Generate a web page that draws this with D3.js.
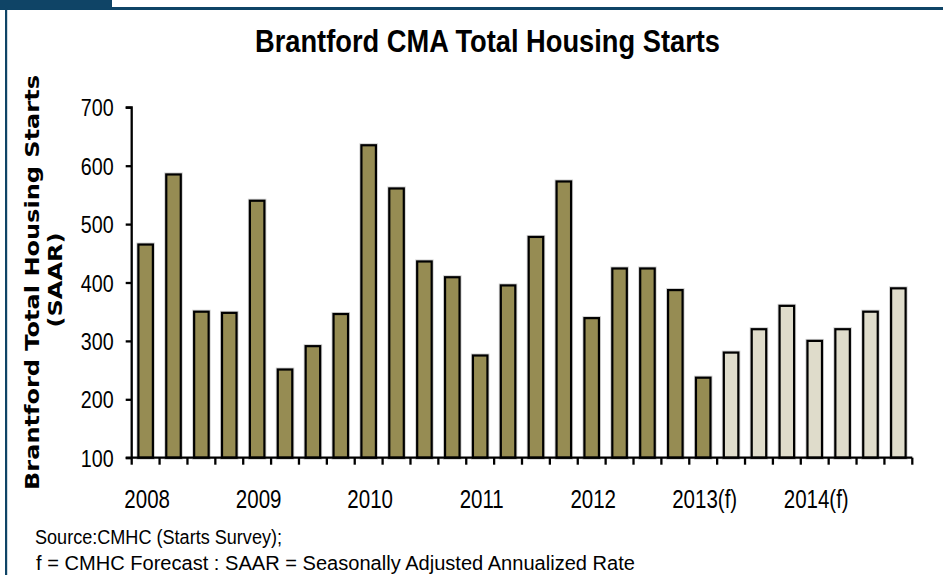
<!DOCTYPE html>
<html>
<head>
<meta charset="utf-8">
<script src="https://cdn.jsdelivr.net/npm/d3@7"></script>
<style>
  html, body { margin: 0; padding: 0; background: #ffffff; }
  svg { display: block; }
  .narrow { font-family: 'Liberation Sans Narrow', 'Liberation Sans', Arial, sans-serif; }
</style>
</head>
<body>
<svg id="chart" width="943" height="575"></svg>
<script>
// Quarterly housing starts, SAAR, 2008 Q1 – 2013 Q1 (actual)
const actualStarts = [465, 585, 350, 348, 540, 251, 291, 346, 635, 561, 436, 409,
                      275, 395, 478, 573, 339, 424, 424, 387, 237];
// 2013 Q2 – 2014 Q4 (forecast)
const forecastStarts = [280, 320, 360, 300, 320, 350, 390];
const yearLabels = ["2008", "2009", "2010", "2011", "2012", "2013(f)", "2014(f)"];
const yTicks = [100, 200, 300, 400, 500, 600, 700];

const quarters = [];
yearLabels.forEach(y => { for (let q = 1; q <= 4; q++) quarters.push(y + " Q" + q); });
const bars = quarters.map((k, i) => ({
  key: k,
  value: i < actualStarts.length ? actualStarts[i] : forecastStarts[i - actualStarts.length],
  forecast: i >= actualStarts.length
}));

const svg = d3.select("#chart");
const W = 943, H = 575;
const plot = { left: 131.7, right: 912.3, top: 107.3, bottom: 457.7 };

// narrow face may be missing: squeeze the regular face instead
const probe = svg.append("text").attr("class", "narrow").style("font-size", "100px").text("0000");
const narrowW = probe.node().getComputedTextLength();
probe.style("font-family", "'Liberation Sans', Arial, sans-serif");
const regularW = probe.node().getComputedTextLength();
probe.remove();
const squeeze = Math.abs(narrowW - regularW) < 1 ? 0.82 : 1;
function condense(sel) {
  sel.each(function () {
    const len = this.getComputedTextLength();
    d3.select(this).attr("textLength", len * squeeze).attr("lengthAdjust", "spacingAndGlyphs");
  });
}

// frame: dark band along the top with a tab at the left, thin rule down the left side
const frameColor = "#0f4466";
svg.append("rect").attr("x", 0).attr("y", 7).attr("width", W).attr("height", 3).attr("fill", frameColor);
svg.append("rect").attr("x", 0).attr("y", 0).attr("width", 112).attr("height", 9.5).attr("fill", frameColor);
svg.append("rect").attr("x", 5).attr("y", 8).attr("width", 2.2).attr("height", H - 8).attr("fill", frameColor);

const x = d3.scaleBand().domain(quarters).range([plot.left, plot.right]).padding(0);
const y = d3.scaleLinear().domain([100, 700]).range([plot.bottom, plot.top]);
const barW = x.bandwidth() * 0.52;

// bars
const g = svg.append("g");
g.selectAll("rect.halo").data(bars).join("rect")
  .attr("class", "halo")
  .attr("x", d => x(d.key) + (x.bandwidth() - barW) / 2)
  .attr("y", d => y(d.value))
  .attr("width", barW)
  .attr("height", d => y(100) - y(d.value))
  .attr("fill", "none")
  .attr("stroke", "#cfcfcf")
  .attr("stroke-width", 4);
g.selectAll("rect.bar").data(bars).join("rect")
  .attr("class", "bar")
  .attr("x", d => x(d.key) + (x.bandwidth() - barW) / 2)
  .attr("y", d => y(d.value))
  .attr("width", barW)
  .attr("height", d => y(100) - y(d.value))
  .attr("fill", d => d.forecast ? "#dfdccb" : "#968c53")
  .attr("stroke", "#000")
  .attr("stroke-width", 2.2);

// y axis
const yAxis = d3.axisLeft(y).tickValues(yTicks).tickSize(6).tickPadding(0).tickFormat(d3.format("d"));
const yg = svg.append("g").attr("transform", `translate(${plot.left},0)`).call(yAxis);
yg.attr("font-family", null).attr("font-size", null);
yg.select(".domain").attr("stroke", "#000").attr("stroke-width", 2.3).attr("d", `M-6,${plot.top}H0V${plot.bottom}`);
yg.selectAll(".tick line").attr("stroke", "#000").attr("stroke-width", 2.3);
yg.selectAll(".tick text")
  .attr("class", "narrow")
  .attr("x", -18)
  .attr("dy", "0.36em")
  .attr("fill", "#000")
  .style("font-size", "24px")
  .call(condense);

// x axis: tick at every quarter boundary
const boundaries = quarters.map(q => x(q)).concat([plot.right]);
const xg = svg.append("g");
xg.append("line")
  .attr("x1", plot.left - 6).attr("x2", plot.right)
  .attr("y1", plot.bottom).attr("y2", plot.bottom)
  .attr("stroke", "#000").attr("stroke-width", 2.3);
xg.selectAll("line.tick").data(boundaries).join("line")
  .attr("class", "tick")
  .attr("x1", d => d).attr("x2", d => d)
  .attr("y1", plot.bottom).attr("y2", plot.bottom + 7)
  .attr("stroke", "#000").attr("stroke-width", 2.3);

// year labels under the first quarter of each year
svg.append("g").selectAll("text").data(yearLabels).join("text")
  .attr("class", "narrow")
  .attr("x", d => x(d + " Q1") + x.bandwidth() / 2 + 1.5)
  .attr("y", 508)
  .attr("text-anchor", "middle")
  .attr("fill", "#000")
  .style("font-size", "25px")
  .text(d => d)
  .call(condense);

// title
svg.append("text")
  .attr("class", "narrow")
  .attr("x", 487.5).attr("y", 52)
  .attr("text-anchor", "middle")
  .attr("textLength", 465).attr("lengthAdjust", "spacingAndGlyphs")
  .style("font-size", "31.5px").style("font-weight", "bold")
  .attr("fill", "#000")
  .text("Brantford CMA Total Housing Starts");

// y axis title (two lines)
const yt = svg.append("g").style("font-family", "'DejaVu Sans', Verdana, sans-serif")
  .style("font-weight", "bold").style("font-size", "19.5px").attr("fill", "#000");
yt.append("text")
  .attr("transform", "translate(39,282.5) rotate(-90)")
  .attr("text-anchor", "middle")
  .attr("textLength", 415).attr("lengthAdjust", "spacingAndGlyphs")
  .text("Brantford Total Housing Starts");
yt.append("text")
  .attr("transform", "translate(61.5,280) rotate(-90)")
  .attr("text-anchor", "middle")
  .attr("textLength", 95).attr("lengthAdjust", "spacingAndGlyphs")
  .text("(SAAR)");

// source notes
svg.append("text").attr("class", "narrow")
  .attr("x", 35).attr("y", 544)
  .attr("textLength", 247).attr("lengthAdjust", "spacingAndGlyphs")
  .style("font-size", "20px").attr("fill", "#000")
  .text("Source:CMHC (Starts Survey);");
svg.append("text").attr("class", "narrow")
  .attr("x", 36).attr("y", 570)
  .attr("textLength", 599).attr("lengthAdjust", "spacingAndGlyphs")
  .style("font-size", "20px").attr("fill", "#000")
  .text("f = CMHC Forecast : SAAR = Seasonally Adjusted Annualized Rate");
</script>
</body>
</html>
